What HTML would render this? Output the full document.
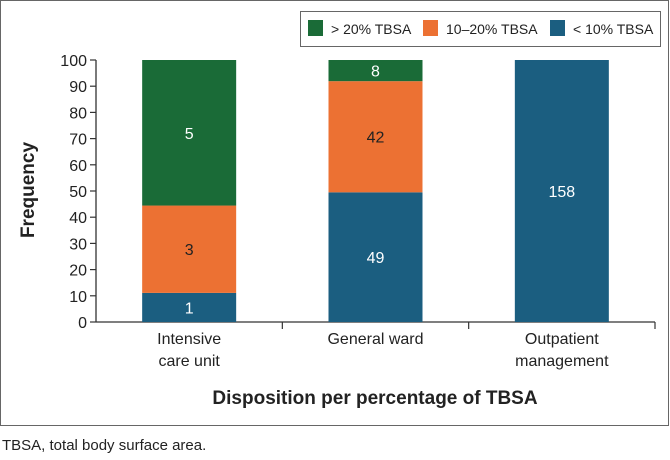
<!DOCTYPE html>
<html><head><meta charset="utf-8"><style>
body{margin:0;background:#fff;width:670px;height:455px;overflow:hidden;font-family:"Liberation Sans",sans-serif}
</style></head><body>
<svg id="c" width="670" height="455" xmlns="http://www.w3.org/2000/svg" font-family="Liberation Sans, sans-serif">
<rect x="0.5" y="0.5" width="668" height="425" fill="none" stroke="#666" stroke-width="1"/>
<text x="2" y="450" font-size="15" fill="#222">TBSA, total body surface area.</text>
<g>
<rect x="300.5" y="11.5" width="360" height="35" fill="#fff" stroke="#666"/>
<rect x="308" y="20" width="15" height="16" fill="#1a6b37"/>
<text x="331" y="34" font-size="14" fill="#222">&gt; 20% TBSA</text>
<rect x="423" y="20" width="15" height="16" fill="#ec7133"/>
<text x="446" y="34" font-size="14" fill="#222">10–20% TBSA</text>
<rect x="550" y="20" width="15" height="16" fill="#1b5e80"/>
<text x="573" y="34" font-size="14" fill="#222">&lt; 10% TBSA</text>
</g>
<text transform="translate(34,190) rotate(-90)" text-anchor="middle" font-size="19" font-weight="bold" fill="#222">Frequency</text>
<text x="375" y="404" text-anchor="middle" font-size="19" font-weight="bold" fill="#222">Disposition per percentage of TBSA</text>
</svg>
<script>
const categories=[["Intensive","care unit"],["General ward"],["Outpatient","management"]];
const under10=[1,49,158];
const mid10to20=[3,42,0];
const over20=[5,8,0];
const yTicks=[0,10,20,30,40,50,60,70,80,90,100];
const svg=document.getElementById('c');
const NS='http://www.w3.org/2000/svg';
const x0=96,x1=655,y0=322,y1=60;
const band=(x1-x0)/categories.length;
const barW=94;
function yS(v){return y0-(v/100)*(y0-y1);}
function mk(t,a,p){const e=document.createElementNS(NS,t);for(const k in a)e.setAttribute(k,a[k]);(p||svg).appendChild(e);return e;}
const ax=mk('g',{});


const yl=mk('line',{x1:x0,y1:y1,x2:x0,y2:y0,stroke:'#333','stroke-width':1.3},ax);


const xl=mk('line',{x1:x0,y1:y0,x2:x1,y2:y0,stroke:'#333','stroke-width':1.3},ax);


yTicks.forEach(t=>{
 const y=yS(t);
 const tk=mk('line',{x1:x0-6,y1:y,x2:x0,y2:y,stroke:'#333','stroke-width':1.2},ax);
 
 
 const tl=mk('text',{x:x0-9,y:y+6,'text-anchor':'end','font-size':16,fill:'#222'},ax);
 tl.textContent=t;
 
 
});
for(let i=0;i<=categories.length;i++){
 const x=x0+band*i;
 if(i===0)continue;
 const tk=mk('line',{x1:x,y1:y0,x2:x,y2:y0+7,stroke:'#333','stroke-width':1.2},ax);
 
 
}
const series=[[under10,'#1b5e80','#fff','under10'],[mid10to20,'#ec7133','#222','10to20'],[over20,'#1a6b37','#fff','over20']];
categories.forEach((cat,i)=>{
 const total=under10[i]+mid10to20[i]+over20[i];
 const cx=x0+band*(i+0.5);
 let cum=0;
 series.forEach(([arr,col,tc,nm])=>{
  const v=arr[i];
  if(!v)return;
  const pA=cum/total*100,pB=(cum+v)/total*100;cum+=v;
  const yt=yS(pB),yb=yS(pA);
  const r=mk('rect',{x:cx-barW/2,y:yt,width:barW,height:yb-yt,fill:col});
  
  
  const l=mk('text',{x:cx,y:(yt+yb)/2+6,'text-anchor':'middle','font-size':16,fill:tc});
  l.textContent=v;
  
  
 });
 cat.forEach((ln,j)=>{
  const t=mk('text',{x:cx,y:344+j*22,'text-anchor':'middle','font-size':16,fill:'#222'});
  t.textContent=ln;
  
  
 });
});
</script>
</body></html>
